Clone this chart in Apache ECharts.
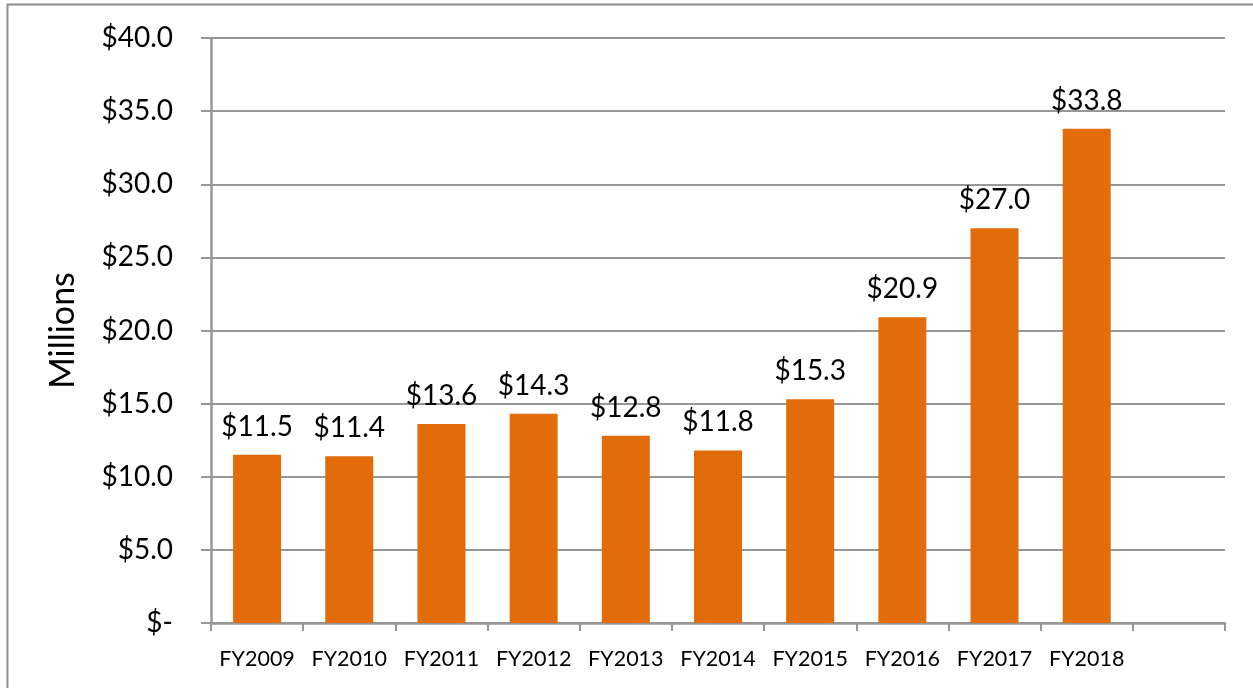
<!DOCTYPE html>
<html>
<head>
<meta charset="utf-8">
<title>Millions by fiscal year</title>
<script src="https://cdn.jsdelivr.net/npm/echarts@6/dist/echarts.min.js"></script>
<style>
  html, body { margin: 0; padding: 0; background: #fff; }
  #chart { width: 1253px; height: 688px; }
</style>
</head>
<body>
<div id="chart"></div>
<script>
// fiscal years, plus one empty slot at the end like the original
var years = ['FY2009', 'FY2010', 'FY2011', 'FY2012', 'FY2013', 'FY2014', 'FY2015', 'FY2016', 'FY2017', 'FY2018', ''];
var amounts = [11.5, 11.4, 13.6, 14.3, 12.8, 11.8, 15.3, 20.9, 27.0, 33.8, null];
var yTicks = [0, 5, 10, 15, 20, 25, 30, 35, 40];

var font = 'Lato, "Open Sans", sans-serif';
var gray = '#979797';

var chart = echarts.init(document.getElementById('chart'));
chart.setOption({
    animation: false,
    graphic: [{
        type: 'rect',
        shape: { x: 7.5, y: 4.5, width: 1260, height: 700 },
        style: { fill: 'none', stroke: '#8c8c8c', lineWidth: 2 }
    }],
    grid: { left: 211, right: 28, top: 38, bottom: 65 },
    xAxis: {
        type: 'category',
        data: years,
        boundaryGap: true,
        axisLine: { lineStyle: { color: gray, width: 2.5 } },
        axisTick: { show: true, interval: 0, length: 8, lineStyle: { color: gray, width: 2 } },
        axisLabel: { interval: 0, margin: 25, fontSize: 21.5, color: '#000', fontFamily: font }
    },
    yAxis: {
        type: 'value',
        min: yTicks[0],
        max: yTicks[yTicks.length - 1],
        interval: 5,
        name: 'Millions',
        nameLocation: 'middle',
        nameRotate: 90,
        nameGap: 131,
        nameTextStyle: { fontSize: 34, color: '#000', fontFamily: font },
        axisLine: { show: true, lineStyle: { color: gray, width: 2.5 } },
        axisTick: { show: true, length: 10, lineStyle: { color: gray, width: 2 } },
        splitLine: { lineStyle: { color: gray, width: 2 } },
        axisLabel: {
            margin: 38, fontSize: 28, color: '#000', fontFamily: font,
            formatter: function (v) { return v === 0 ? '$-' : '$' + v.toFixed(1); }
        }
    },
    series: [{
        type: 'bar',
        data: amounts,
        barWidth: 48,
        itemStyle: { color: '#E36C0A' },
        label: {
            show: true,
            position: 'top',
            distance: 14,
            fontSize: 28,
            color: '#000',
            fontFamily: font,
            formatter: function (p) { return '$' + p.value.toFixed(1); }
        }
    }]
});
</script>
</body>
</html>
